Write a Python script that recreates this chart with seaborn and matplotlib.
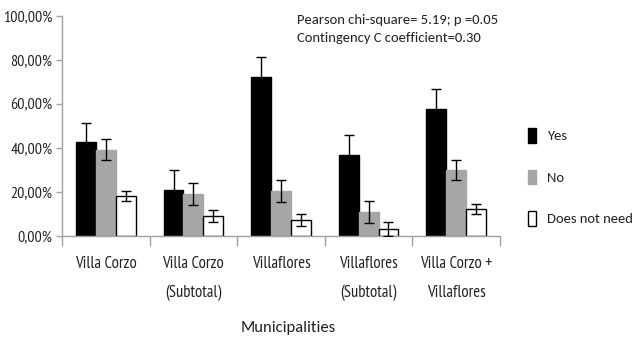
import matplotlib
matplotlib.use("Agg")
import matplotlib.pyplot as plt
from matplotlib.patches import Patch
import numpy as np
import pandas as pd
import seaborn as sns

# Survey responses per municipality (percent) with error bar half-widths
municipalities = ["Villa Corzo", "Villa Corzo\n(Subtotal)", "Villaflores",
                  "Villaflores\n(Subtotal)", "Villa Corzo +\nVillaflores"]
answers = ["Yes", "No", "Does not need"]
yes_pct = [42.7, 21.0, 72.4, 36.7, 57.7]
no_pct = [39.2, 19.2, 20.5, 10.8, 29.9]
dnn_pct = [18.0, 9.1, 7.3, 3.3, 12.3]
yes_err = [8.8, 8.9, 8.8, 9.2, 9.0]
no_err = [4.8, 5.0, 5.0, 4.9, 4.5]
dnn_err = [2.3, 2.7, 2.6, 3.1, 2.4]
y_ticks = [0, 20, 40, 60, 80, 100]
y_tick_labels = ["0,00%", "20,00%", "40,00%", "60,00%", "80,00%", "100,00%"]
stats_text = "Pearson chi-square= 5.19; p =0.05\nContingency C coefficient=0.30"

values = {"Yes": yes_pct, "No": no_pct, "Does not need": dnn_pct}
errors = {"Yes": yes_err, "No": no_err, "Does not need": dnn_err}
df = pd.DataFrame([
    {"Municipality": m, "Answer": a, "Percent": values[a][i]}
    for a in answers for i, m in enumerate(municipalities)
])

fills = {"Yes": "#000000", "No": "#a6a6a6", "Does not need": "#ffffff"}
edges = {"Yes": "#000000", "No": "#a6a6a6", "Does not need": "#000000"}

sns.set_style("white")
plt.rcParams["font.family"] = ["Carlito", "DejaVu Sans"]

fig = plt.figure(figsize=(6.37, 3.41), dpi=100)
ax = fig.add_axes([62 / 637, 1 - 236 / 341, (500 - 62) / 637, (236 - 16) / 341])

sns.barplot(data=df, x="Municipality", y="Percent", hue="Answer",
            hue_order=answers, order=municipalities, palette=fills,
            width=0.68, errorbar=None, legend=False, ax=ax, saturation=1)

for answer, container in zip(answers, ax.containers):
    xs, ys = [], []
    for patch in container.patches:
        patch.set_edgecolor(edges[answer])
        patch.set_linewidth(1.0)
        xs.append(patch.get_x() + patch.get_width() / 2)
        ys.append(patch.get_height())
    ax.errorbar(xs, ys, yerr=errors[answer], fmt="none", ecolor="black",
                elinewidth=1.0, capsize=3.5, capthick=1.0, zorder=5)

ax.set_xlim(-0.5, len(municipalities) - 0.5)
ax.set_ylim(0, 100)
ax.set_yticks(y_ticks)
ax.set_yticklabels(y_tick_labels)
ax.set_xticks(range(len(municipalities)))
ax.set_xticklabels(municipalities)
ax.set_xticks(np.arange(-0.5, len(municipalities), 1.0), minor=True)
ax.set_xlabel("")
ax.set_ylabel("")

axis_grey = "#a0a0a0"
for side in ("top", "right"):
    ax.spines[side].set_visible(False)
for side in ("left", "bottom"):
    ax.spines[side].set_color(axis_grey)
    ax.spines[side].set_linewidth(1.0)

narrow = ["PT Sans Narrow", "DejaVu Sans"]
ax.tick_params(axis="y", which="major", left=True, length=4, width=1,
               color=axis_grey, pad=3, labelsize=11.5, labelcolor="#222222")
ax.tick_params(axis="x", which="major", bottom=False, pad=11,
               labelsize=12, labelcolor="#222222")
ax.tick_params(axis="x", which="minor", bottom=True, length=7, width=1,
               color=axis_grey)
for lbl in ax.get_yticklabels() + ax.get_xticklabels():
    lbl.set_fontfamily(narrow)
for lbl in ax.get_xticklabels():
    lbl.set_linespacing(2.05)

fig.text(288 / 637, 1 - 328 / 341, "Municipalities", ha="center", va="center",
         fontsize=12, color="#222222")
fig.text(297 / 637, 1 - 29 / 341, stats_text, ha="left", va="center",
         fontsize=10.5, linespacing=1.5, color="#222222")

handles = [Patch(facecolor=fills[a], edgecolor=edges[a], linewidth=1.0, label=a)
           for a in answers]
fig.legend(handles=handles, loc="center left",
           bbox_to_anchor=(515 / 637, 1 - 177 / 341), frameon=False,
           fontsize=10.5, handlelength=0.55, handleheight=1.15, handletextpad=0.75,
           labelspacing=1.85, labelcolor="#222222")

fig.savefig("out.png", dpi=100)
